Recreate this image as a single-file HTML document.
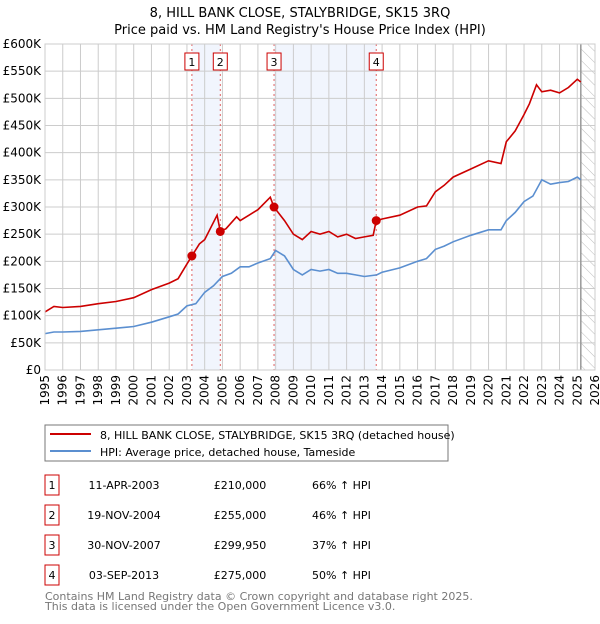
<!DOCTYPE html>
<html><head><meta charset="utf-8"><style>
body{margin:0;background:#fff;font-family:"DejaVu Sans","Liberation Sans",sans-serif;}
svg text{font-family:"DejaVu Sans","Liberation Sans",sans-serif;}
</style></head><body>
<svg id="chart" width="600" height="620" xmlns="http://www.w3.org/2000/svg">
<defs><pattern id="hatch" width="8" height="8" patternUnits="userSpaceOnUse" patternTransform="rotate(-45)"><line x1="0" y1="0" x2="0" y2="8" stroke="#bbb" stroke-width="1"/></pattern></defs>
<text x="300" y="17" text-anchor="middle" font-size="13">8, HILL BANK CLOSE, STALYBRIDGE, SK15 3RQ</text>
<text x="300" y="34" text-anchor="middle" font-size="13">Price paid vs. HM Land Registry's House Price Index (HPI)</text>
<g id="plot"></g>
<rect x="45" y="425" width="403" height="36" fill="#fff" stroke="#777"/>
<line x1="50" y1="434" x2="91" y2="434" stroke="#cc0000" stroke-width="2"/>
<text x="100" y="439" font-size="11">8, HILL BANK CLOSE, STALYBRIDGE, SK15 3RQ (detached house)</text>
<line x1="50" y1="451" x2="91" y2="451" stroke="#5b8fd0" stroke-width="2"/>
<text x="100" y="456" font-size="11">HPI: Average price, detached house, Tameside</text>
<g id="table"></g>
<text x="45" y="600" font-size="11" fill="#777">Contains HM Land Registry data © Crown copyright and database right 2025.</text>
<text x="45" y="610" font-size="11" fill="#777">This data is licensed under the Open Government Licence v3.0.</text>
</svg>
<script>
const hpiYears=[1995,1995.5,1996,1997,1998,1999,2000,2001,2002,2002.5,2003,2003.5,2004,2004.5,2005,2005.5,2006,2006.5,2007,2007.7,2008,2008.5,2009,2009.5,2010,2010.5,2011,2011.5,2012,2012.5,2013,2013.7,2014,2015,2016,2016.5,2017,2017.5,2018,2019,2020,2020.7,2021,2021.5,2022,2022.5,2023,2023.5,2024,2024.5,2025,2025.2];
const hpiValues=[67,70,70,71,74,77,80,88,98,103,118,122,143,155,172,178,190,190,197,205,220,210,185,175,185,182,185,178,178,175,172,175,180,188,200,205,222,228,236,248,258,258,275,290,310,320,350,342,345,347,355,350];
const redYears=[1995,1995.5,1996,1997,1998,1999,2000,2001,2002,2002.5,2003,2003.28,2003.7,2004,2004.7,2004.88,2005.2,2005.8,2006,2006.5,2007,2007.7,2007.9,2008.5,2009,2009.5,2010,2010.5,2011,2011.5,2012,2012.5,2013,2013.5,2013.67,2014,2015,2016,2016.5,2017,2017.5,2018,2019,2020,2020.7,2021,2021.5,2022,2022.3,2022.7,2023,2023.5,2024,2024.5,2025,2025.2];
const redValues=[107,117,115,117,122,126,133,148,160,168,195,210,232,240,285,255,260,282,275,285,295,318,300,275,250,240,255,250,255,245,250,242,245,248,275,278,285,300,302,328,340,355,370,385,380,420,440,470,490,525,512,515,510,520,535,530];
const saleYears=[2003.28,2004.88,2007.91,2013.67];
const salePrices=[210,255,299.95,275];
const saleLabels=["1","2","3","4"];
const saleDates=["11-APR-2003","19-NOV-2004","30-NOV-2007","03-SEP-2013"];
const salePriceText=["£210,000","£255,000","£299,950","£275,000"];
const saleHpiText=["66% ↑ HPI","46% ↑ HPI","37% ↑ HPI","50% ↑ HPI"];
const yTicks=[0,50,100,150,200,250,300,350,400,450,500,550,600];
const xTicks=[1995,1996,1997,1998,1999,2000,2001,2002,2003,2004,2005,2006,2007,2008,2009,2010,2011,2012,2013,2014,2015,2016,2017,2018,2019,2020,2021,2022,2023,2024,2025,2026];
const NS="http://www.w3.org/2000/svg";
const L=45,R=595,T=44,B=370;
const xs=y=>L+(y-1995)/(2026-1995)*(R-L);
const ys=v=>B-v/600*(B-T);
const plot=document.getElementById('plot');
function mk(tag,attrs,parent){const e=document.createElementNS(NS,tag);for(const k in attrs)e.setAttribute(k,attrs[k]);(parent||plot).appendChild(e);return e;}
// shading
for(let i=0;i<saleYears.length;i+=2){
 const r=mk('rect',{x:xs(saleYears[i]),y:T,width:xs(saleYears[i+1])-xs(saleYears[i]),height:B-T,fill:'#eef3fc',opacity:0.8});
 
 
}
const hx=xs(2025.2);
const hr=mk('rect',{x:hx,y:T,width:R-hx,height:B-T,fill:'url(#hatch)'});


// grid
yTicks.forEach(v=>{
 const g=mk('line',{x1:L,x2:R,y1:ys(v),y2:ys(v),stroke:'#ccc'});
 
 
 const t=mk('text',{x:L-4,y:ys(v)+4,'text-anchor':'end','font-size':'12'});
 t.textContent=v===0?'£0':'£'+v+'K';
 
 
});
xTicks.forEach(y=>{
 const g=mk('line',{x1:xs(y),x2:xs(y),y1:T,y2:B,stroke:'#ccc'});
 
 
 const t=mk('text',{x:0,y:0,'text-anchor':'end','font-size':'12',transform:`translate(${xs(y)+4},${B+5}) rotate(-90)`});
 t.textContent=y;
 
 
});
const nl=mk('line',{x1:hx,x2:hx,y1:T,y2:B,stroke:'#999','stroke-width':1.5});


// sale vlines
saleYears.forEach((y,i)=>{
 const l=mk('line',{x1:xs(y),x2:xs(y),y1:T,y2:B,stroke:'#e06060','stroke-dasharray':'2,3'});
 
 
 const b=mk('rect',{x:xs(y)-7,y:53,width:14,height:17,fill:'#fff',stroke:'#cc0000'});
 
 
 const t=mk('text',{x:xs(y),y:66,'text-anchor':'middle','font-size':'11'});
 t.textContent=saleLabels[i];
 
 
});
function line(xsA,vs,color,name){
 const d=xsA.map((y,i)=>(i?'L':'M')+xs(y).toFixed(1)+','+ys(vs[i]).toFixed(1)).join('');
 const p=mk('path',{d:d,fill:'none',stroke:color,'stroke-width':1.6});
 
 
}
line(hpiYears,hpiValues,'#5b8fd0','hpi-line');
line(redYears,redValues,'#cc0000','property-price-line');
saleYears.forEach((y,i)=>{
 const c=mk('circle',{cx:xs(y),cy:ys(salePrices[i]),r:4.5,fill:'#cc0000'});
 
 
});
const ax=mk('rect',{x:L,y:T,width:R-L,height:B-T,fill:'none',stroke:'#ccc'});


// table
const tb=document.getElementById('table');
saleLabels.forEach((s,i)=>{
 const y=483+i*30;
 const b=mk('rect',{x:45,y:y-8,width:14,height:20,fill:'#fff',stroke:'#cc0000'},tb);
 
 
 const cells=[[52,s,'middle'],[124,saleDates[i],'middle'],[240,salePriceText[i],'middle'],[312,saleHpiText[i],'start']];
 cells.forEach(c=>{
  const t=mk('text',{x:c[0],y:y+6,'text-anchor':c[2],'font-size':'11'},tb);
  t.textContent=c[1];
  
  
 });
});
</script>
</body></html>
